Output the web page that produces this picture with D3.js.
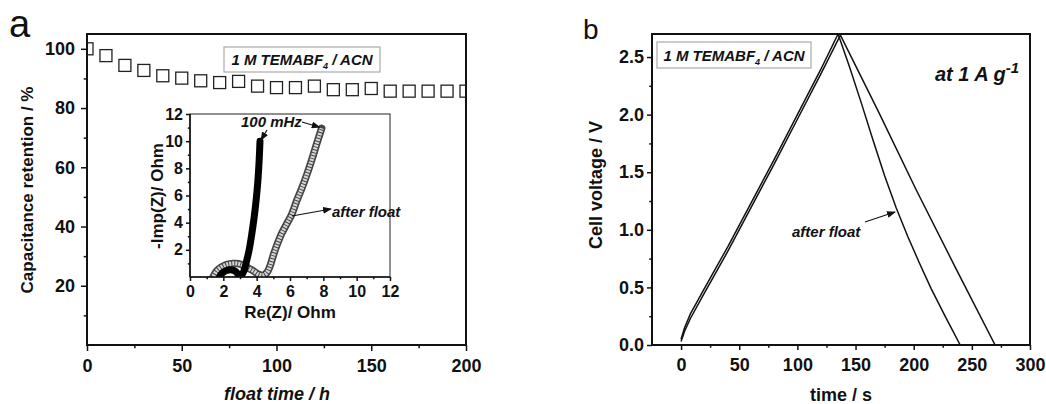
<!DOCTYPE html>
<html>
<head>
<meta charset="utf-8">
<script src="https://cdn.jsdelivr.net/npm/d3@7"></script>
<style>
body { margin: 0; background: #fff; }
text { font-family: "Liberation Sans", Arial, sans-serif; fill: #111; }
.axis path { display: none; }
.axis line { stroke: #111; stroke-width: 1.5; }
.axis text { font-weight: bold; }
.frame { fill: none; stroke: #111; stroke-width: 2; }
</style>
</head>
<body>
<svg id="chart" width="1046" height="404"></svg>
<script>
// panel a: capacitance retention during floating
let floatTime = [0, 10, 20, 30, 40, 50, 60, 70, 80, 90, 100, 110, 120, 130, 140, 150, 160, 170, 180, 190, 200];
let retention = [100, 97.7, 94.4, 92.7, 90.9, 90.1, 89.2, 88.6, 89.0, 87.4, 86.9, 86.9, 87.4, 86.2, 86.2, 86.6, 85.7, 85.7, 85.7, 85.7, 85.7];

// inset: Nyquist plots
let reInit = [1.80, 1.95, 2.20, 2.50, 2.75, 2.95, 3.10, 3.25, 3.40, 3.55, 3.70, 3.85, 3.98, 4.08, 4.15, 4.20];
let imInit = [0.05, 0.30, 0.48, 0.52, 0.40, 0.10, 0.15, 0.50, 1.20, 2.00, 3.10, 4.40, 5.80, 7.20, 8.60, 10.0];
let reFloat = [1.40, 1.60, 1.90, 2.20, 2.60, 2.90, 3.20, 3.50, 3.80, 4.10, 4.35, 4.60, 4.80, 5.00, 5.20, 5.50, 5.80, 6.10, 6.40, 6.70, 7.00, 7.30, 7.60, 7.90];
let imFloat = [0.05, 0.45, 0.75, 0.92, 1.00, 0.98, 0.85, 0.65, 0.45, 0.20, 0.12, 0.30, 0.80, 1.60, 2.30, 3.20, 3.90, 4.60, 5.60, 6.50, 7.50, 8.60, 9.80, 10.95];

// panel b: galvanostatic charge/discharge at 1 A/g
let gcdTimeInit = [0, 3, 8, 20, 40, 60, 80, 100, 120, 137, 170, 202, 236, 270];
let gcdVoltInit = [0.03, 0.12, 0.23, 0.45, 0.81, 1.19, 1.57, 1.96, 2.35, 2.69, 2.02, 1.35, 0.67, 0.0];
let gcdTimeFloat = [0, 3, 8, 20, 40, 60, 80, 100, 120, 135, 145, 155, 165, 175, 185, 195, 205, 215, 227, 240];
let gcdVoltFloat = [0.05, 0.15, 0.27, 0.49, 0.85, 1.23, 1.61, 2.00, 2.39, 2.70, 2.41, 2.10, 1.78, 1.47, 1.19, 0.94, 0.71, 0.49, 0.25, 0.0];

// tick values
let aTicksX = [0, 50, 100, 150, 200], aMinorX = [25, 75, 125, 175];
let aTicksY = [20, 40, 60, 80, 100], aMinorY = [10, 30, 50, 70, 90];
let inTicks = [0, 2, 4, 6, 8, 10, 12], inMinor = [1, 3, 5, 7, 9, 11];
let bTicksX = [0, 50, 100, 150, 200, 250, 300], bMinorX = [25, 75, 125, 175, 225, 275];
let bTicksY = [0, 0.5, 1.0, 1.5, 2.0, 2.5], bMinorY = [0.25, 0.75, 1.25, 1.75, 2.25];

let svg = d3.select("#chart");

let defs = svg.append("defs");
defs.append("marker")
    .attr("id", "arrow")
    .attr("markerUnits", "userSpaceOnUse")
    .attr("markerWidth", 9).attr("markerHeight", 7)
    .attr("refX", 8).attr("refY", 3.5)
    .attr("orient", "auto")
    .append("path")
    .attr("d", "M0,0 L9,3.5 L0,7 Z")
    .attr("fill", "#111");

function addClip(id, x0, y0, w, h) {
    defs.append("clipPath").attr("id", id)
        .append("rect").attr("x", x0).attr("y", y0).attr("width", w).attr("height", h);
}

// draws major + minor ticks of one axis
function drawAxis(g, axisFn, scale, major, minor, size, pad, fmt, fontSize, transform) {
    g.append("g").attr("class", "axis")
        .attr("transform", transform)
        .call(axisFn(scale).tickValues(minor).tickSize(size * 0.55).tickFormat(""));
    g.append("g").attr("class", "axis")
        .attr("transform", transform)
        .call(axisFn(scale).tickValues(major).tickSize(size).tickPadding(pad).tickFormat(fmt))
        .selectAll("text").style("font-size", fontSize + "px");
}

function legendBox(g, x, y, w, h) {
    g.append("rect").attr("x", x).attr("y", y).attr("width", w).attr("height", h)
        .attr("fill", "#fff").attr("stroke", "#aaa").attr("stroke-width", 1.2);
    let t = g.append("text")
        .attr("x", x + w / 2).attr("y", y + h / 2 + 5.5)
        .attr("text-anchor", "middle")
        .style("font-size", "15px").style("font-weight", "bold").style("font-style", "italic");
    t.append("tspan").text("1 M TEMABF");
    t.append("tspan").text("4").style("font-size", "9px").attr("dy", 4);
    t.append("tspan").text(" / ACN").attr("dy", -4);
}

function arrow(g, x1, y1, x2, y2) {
    g.append("line")
        .attr("x1", x1).attr("y1", y1).attr("x2", x2).attr("y2", y2)
        .attr("stroke", "#111").attr("stroke-width", 1.2)
        .attr("marker-end", "url(#arrow)");
}

// ---------------- panel a ----------------
let xA = d3.scaleLinear().domain([0, 200]).range([87, 466]);
let yA = d3.scaleLinear().domain([0, 105]).range([345, 34]);
let gA = svg.append("g");

drawAxis(gA, d3.axisBottom, xA, aTicksX, aMinorX, 6, 8, d3.format("d"), 18, "translate(0,345)");
drawAxis(gA, d3.axisLeft, yA, aTicksY, aMinorY, 6, 6, d3.format("d"), 18, "translate(87,0)");
gA.append("rect").attr("class", "frame").attr("x", 87).attr("y", 34).attr("width", 379).attr("height", 311);

addClip("clipA", 87, 34, 379, 311);
gA.append("g").attr("clip-path", "url(#clipA)")
    .selectAll("rect.pt")
    .data(floatTime)
    .enter()
    .append("rect")
    .attr("class", "pt")
    .attr("x", d => xA(d) - 6)
    .attr("y", (d, i) => yA(retention[i]) - 6)
    .attr("width", 12).attr("height", 12)
    .attr("fill", "none").attr("stroke", "#222").attr("stroke-width", 1.3);

legendBox(gA, 224, 47, 156, 25);

gA.append("text")
    .attr("x", 277).attr("y", 400)
    .attr("text-anchor", "middle")
    .style("font-size", "18px").style("font-weight", "bold").style("font-style", "italic")
    .text("float time / h");

gA.append("text")
    .attr("transform", "translate(33,190) rotate(-90)")
    .attr("text-anchor", "middle")
    .style("font-size", "17px").style("font-weight", "bold")
    .text("Capacitance retention / %");

gA.append("text")
    .attr("x", 9).attr("y", 37)
    .style("font-size", "38px")
    .text("a");

// ---------------- inset ----------------
let xI = d3.scaleLinear().domain([0, 12]).range([190, 390]);
let yI = d3.scaleLinear().domain([0, 12]).range([277, 114]);
let gI = svg.append("g");

gI.append("rect").attr("x", 190).attr("y", 114).attr("width", 200).attr("height", 163)
    .attr("fill", "#fff").attr("stroke", "#222").attr("stroke-width", 1);

addClip("clipI", 190, 100, 200, 177);
let nyq = d3.line().curve(d3.curveCatmullRom.alpha(0.5));
let floatPts = reFloat.map((d, i) => [xI(d), yI(imFloat[i])]);
let initPts = reInit.map((d, i) => [xI(d), yI(imInit[i])]);
let curves = gI.append("g").attr("clip-path", "url(#clipI)");

curves.append("path")
    .attr("d", nyq(floatPts))
    .attr("fill", "none").attr("stroke", "#444").attr("stroke-width", 7.5)
    .attr("stroke-linecap", "round").attr("stroke-linejoin", "round");
curves.append("path")
    .attr("d", nyq(floatPts))
    .attr("fill", "none").attr("stroke", "#d6d6d6").attr("stroke-width", 4.2)
    .attr("stroke-dasharray", "2,1");
curves.append("path")
    .attr("d", nyq(initPts))
    .attr("fill", "none").attr("stroke", "#000").attr("stroke-width", 7)
    .attr("stroke-linecap", "round").attr("stroke-linejoin", "round");

drawAxis(gI, d3.axisBottom, xI, inTicks, inMinor, 4, 5, d3.format("d"), 16, "translate(0,277)");
drawAxis(gI, d3.axisLeft, yI, inTicks.slice(1), inMinor, 4, 3, d3.format("d"), 16, "translate(190,0)");
gI.append("line").attr("x1", 190).attr("x2", 390).attr("y1", 277).attr("y2", 277)
    .attr("stroke", "#111").attr("stroke-width", 1.6);
gI.append("line").attr("x1", 190).attr("x2", 190).attr("y1", 114).attr("y2", 277)
    .attr("stroke", "#111").attr("stroke-width", 1.6);

gI.append("text")
    .attr("x", 290).attr("y", 318)
    .attr("text-anchor", "middle")
    .style("font-size", "17px").style("font-weight", "bold")
    .text("Re(Z)/ Ohm");

gI.append("text")
    .attr("transform", "translate(163,196) rotate(-90)")
    .attr("text-anchor", "middle")
    .style("font-size", "17px").style("font-weight", "bold")
    .text("-Imp(Z)/ Ohm");

gI.append("text")
    .attr("x", 241).attr("y", 127)
    .style("font-size", "15px").style("font-weight", "bold").style("font-style", "italic")
    .text("100 mHz");
arrow(gI, 267, 130, xI(reInit[reInit.length - 1]) + 1, yI(imInit[imInit.length - 1]) - 1);
arrow(gI, 302, 122, xI(reFloat[reFloat.length - 1]) - 2, yI(imFloat[imFloat.length - 1]) - 1);

gI.append("text")
    .attr("x", 332).attr("y", 217)
    .style("font-size", "15px").style("font-weight", "bold").style("font-style", "italic")
    .text("after float");
arrow(gI, 292, 216, 331, 209);

// ---------------- panel b ----------------
let xB = d3.scaleLinear().domain([-25, 300]).range([652, 1030]);
let yB = d3.scaleLinear().domain([0, 2.7]).range([345, 34]);
let gB = svg.append("g");

drawAxis(gB, d3.axisBottom, xB, bTicksX, bMinorX, 5, 8, d3.format("d"), 18, "translate(0,345)");
drawAxis(gB, d3.axisLeft, yB, bTicksY, bMinorY, 5, 3, d3.format(".1f"), 18, "translate(652,0)");

addClip("clipB", 652, 34, 378, 311);
let gcdLine = d3.line()
    .x(d => xB(d[0]))
    .y(d => yB(d[1]));
let gcdCurves = gB.append("g").attr("clip-path", "url(#clipB)");
gcdCurves.append("path")
    .attr("d", gcdLine(gcdTimeInit.map((d, i) => [d, gcdVoltInit[i]])))
    .attr("fill", "none").attr("stroke", "#111").attr("stroke-width", 1.5);
gcdCurves.append("path")
    .attr("d", gcdLine(gcdTimeFloat.map((d, i) => [d, gcdVoltFloat[i]])))
    .attr("fill", "none").attr("stroke", "#111").attr("stroke-width", 1.5);

gB.append("rect").attr("class", "frame").attr("x", 652).attr("y", 34).attr("width", 378).attr("height", 311);

legendBox(gB, 657, 42, 154, 26);

let rate = gB.append("text")
    .attr("x", 1019).attr("y", 81)
    .attr("text-anchor", "end")
    .style("font-size", "20px").style("font-weight", "bold").style("font-style", "italic");
rate.append("tspan").text("at 1 A g");
rate.append("tspan").text("-1").style("font-size", "15px").attr("dy", -8);

gB.append("text")
    .attr("x", 792).attr("y", 237)
    .style("font-size", "15px").style("font-weight", "bold").style("font-style", "italic")
    .text("after float");
arrow(gB, 865, 222, 895, 212);

gB.append("text")
    .attr("x", 841).attr("y", 401)
    .attr("text-anchor", "middle")
    .style("font-size", "18px").style("font-weight", "bold")
    .text("time / s");

gB.append("text")
    .attr("transform", "translate(602,185) rotate(-90)")
    .attr("text-anchor", "middle")
    .style("font-size", "18px").style("font-weight", "bold")
    .text("Cell voltage / V");

gB.append("text")
    .attr("x", 583).attr("y", 39)
    .style("font-size", "28px")
    .text("b");
</script>
</body>
</html>
